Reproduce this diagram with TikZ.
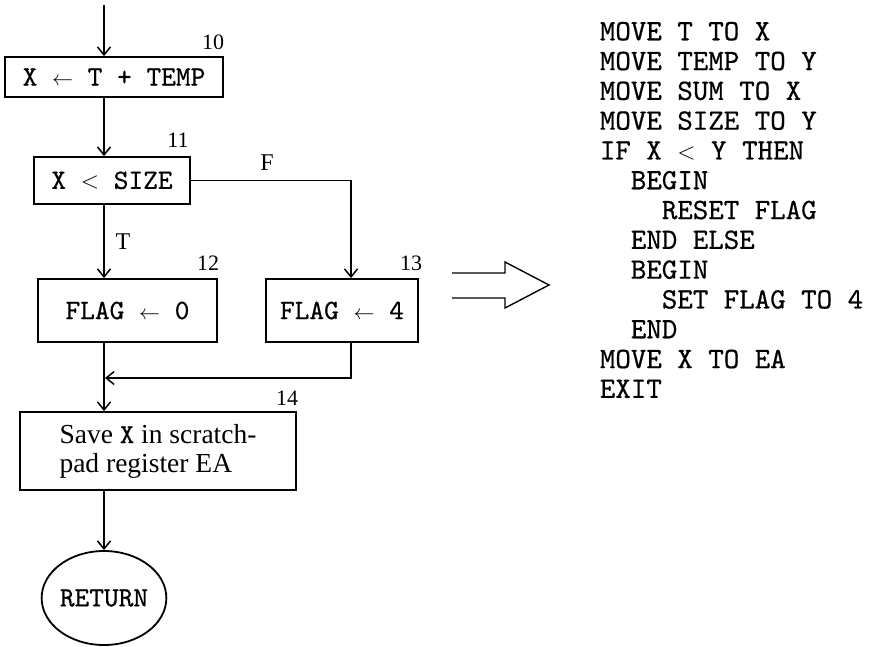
\RequirePackage{fix-cm}
\documentclass[tikz,border=0pt]{standalone}
\usepackage{fontspec}
\setmainfont{Liberation Serif}
\setmonofont{lmmono10-regular.otf}[FakeBold=0.6]
\usetikzlibrary{arrows.meta,shapes.geometric}
\begin{document}
\begin{tikzpicture}[x=1pt,y=-1pt, line width=1.8pt,
  box/.style={draw, rectangle, inner sep=0pt, font=\fontsize{28}{29}\ttfamily},
  serifbox/.style={draw, rectangle, inner sep=0pt, align=left, font=\fontsize{27.5}{29}\selectfont},
  num/.style={inner sep=0pt, font=\fontsize{22}{22}\selectfont},
  lbl/.style={inner sep=0pt, font=\fontsize{24}{24}\selectfont},
  flow/.style={-{Straight Barb[length=8pt,width=13pt,line width=1.5pt]}},
]
\useasboundingbox (0,0) rectangle (870,646);
\newcommand{\la}{{\fontsize{21}{21}\selectfont$\leftarrow$}}

% boxes
\node[box, minimum width=218pt, minimum height=40pt] (b10) at (114,77) {X \la{} T + TEMP};
\node[box, minimum width=156pt, minimum height=47pt] (b11) at (112,180.5) {X {\fontsize{24}{24}\selectfont$<$} SIZE};
\node[box, minimum width=179pt, minimum height=63pt] (b12) at (127.5,310.5) {FLAG \la{} 0};
\node[box, minimum width=152pt, minimum height=63pt] (b13) at (342,310.5) {FLAG \la{} 4};
\node[serifbox, minimum width=276pt, minimum height=78pt] (b14) at (158,451) {Save \texttt{X} in scratch-\\pad register EA};
\node[draw, ellipse, inner sep=0pt, minimum width=124pt, minimum height=94pt, font=\fontsize{28}{28}\ttfamily] (ret) at (104,598) {RETURN};

% numbers and labels
\node[num] (n10) at (213,42) {10};
\node[num] (n11) at (178,140) {11};
\node[num] (n12) at (208,263) {12};
\node[num] (n13) at (411,263) {13};
\node[num] (n14) at (287,398) {14};
\node[lbl] (lt) at (123,242) {T};
\node[lbl] (lf) at (267,163) {F};

% coordinates
\coordinate (start) at (104,5);
\coordinate (fx) at (351,182);
\coordinate (m) at (104,378);

% connectors
\draw[flow] (start) -- (b10.north -| start);
\draw[flow] (b10.south -| start) -- (b11.north -| start);
\draw[flow] (b11.south -| start) -- (b12.north -| start);
\draw[flow] (b11.east) -| (b13.north -| fx);
\draw[flow, shorten >=1pt] (b13.south -| fx) |- (m);
\draw[flow] (b12.south -| start) -- (b14.north -| start);
\draw[flow] (b14.south -| start) -- (ret.north);

% hollow arrow
\draw[line width=1.4pt, line join=miter] (452,273) -- (505,273) -- (505,262) -- (549,285) -- (505,308) -- (505,298) -- (452,298);

% code
\node[anchor=north west, inner sep=0pt, align=left, font=\fontsize{29.5}{29.8}\ttfamily] (code) at (599,21) {%
MOVE T TO X\\
MOVE TEMP TO Y\\
MOVE SUM TO X\\
MOVE SIZE TO Y\\
IF X {\fontsize{24}{24}\selectfont$<$} Y THEN\\
\phantom{XX}BEGIN\\
\phantom{XXXX}RESET FLAG\\
\phantom{XX}END ELSE\\
\phantom{XX}BEGIN\\
\phantom{XXXX}SET FLAG TO 4\\
\phantom{XX}END\\
MOVE X TO EA\\
EXIT};
\end{tikzpicture}
\end{document}
